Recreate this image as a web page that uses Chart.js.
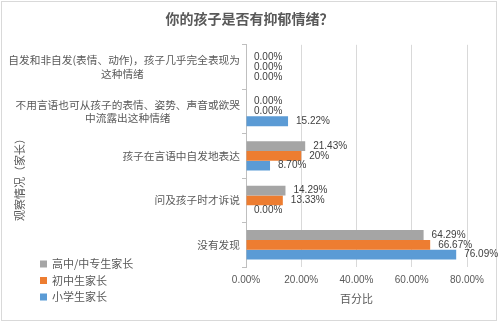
<!DOCTYPE html>
<html>
<head>
<meta charset="utf-8">
<script src="https://cdn.jsdelivr.net/npm/chart.js@4.4.1/dist/chart.umd.min.js"></script>
<style>
    html, body { margin: 0; padding: 0; background: #fff; }
    #wrap { width: 499px; height: 322px; }
</style>
</head>
<body>
<div id="wrap"><canvas id="moodChart" width="499" height="322"></canvas></div>
<script>
// categories (top to bottom); trailing ideographic spaces centre the second line under the first
var categories = [
    ['自发和非自发(表情、动作)，孩子几乎完全表现为', '这种情绪\u3000\u3000\u3000\u3000\u3000\u3000\u3000\u3000\u3000'],
    ['不用言语也可从孩子的表情、姿势、声音或欲哭', '中流露出这种情绪\u3000\u3000\u3000\u3000\u3000\u3000\u2002'],
    '孩子在言语中自发地表达',
    '问及孩子时才诉说',
    '没有发现'
];
var seriesNames = ['高中/中专生家长', '初中生家长', '小学生家长'];
var seniorHighValues = [0, 0, 21.43, 14.29, 64.29];
var juniorHighValues = [0, 0, 20, 13.33, 66.67];
var primaryValues = [0, 15.22, 8.70, 0, 76.09];
var seriesColors = ['#a5a5a5', '#ed7d31', '#5b9bd5'];
var xTicks = [0, 20, 40, 60, 80];

var cjkFont = "'Noto Sans CJK SC', sans-serif";
var numFont = "'Liberation Sans', Arial, sans-serif";
var textColor = '#595959';

function fmtPct(v) {
    if (v !== 0 && Number.isInteger(v)) return v + '%';
    return v.toFixed(2) + '%';
}

// frame, y-axis title and legend
var extrasPlugin = {
    id: 'extras',
    beforeDraw: function(chart) {
        var ctx = chart.ctx;
        ctx.save();
        ctx.fillStyle = '#ffffff';
        ctx.fillRect(0, 0, chart.width, chart.height);
        ctx.strokeStyle = '#d9d9d9';
        ctx.lineWidth = 1;
        ctx.strokeRect(1.5, 1.5, chart.width - 4, chart.height - 3);
        ctx.restore();
    },
    afterDraw: function(chart) {
        var ctx = chart.ctx;
        ctx.save();
        // y-axis title
        ctx.fillStyle = textColor;
        ctx.font = '11px ' + cjkFont;
        ctx.textAlign = 'center';
        ctx.textBaseline = 'middle';
        ctx.translate(20, 177);
        ctx.rotate(-Math.PI / 2);
        ctx.fillText('观察情况（家长）', 0, 0);
        ctx.restore();

        // legend
        ctx.save();
        ctx.font = '11px ' + cjkFont;
        ctx.textAlign = 'left';
        ctx.textBaseline = 'middle';
        for (var i = 0; i < seriesNames.length; i++) {
            var y = 264 + i * 16.5;
            ctx.fillStyle = seriesColors[i];
            ctx.fillRect(40, y - 3.5, 7, 7);
            ctx.fillStyle = textColor;
            ctx.fillText(seriesNames[i], 52, y);
        }
        ctx.restore();
    },
    afterDatasetsDraw: function(chart) {
        var ctx = chart.ctx;
        ctx.save();
        ctx.font = '10px ' + numFont;
        ctx.fillStyle = '#404040';
        ctx.textAlign = 'left';
        ctx.textBaseline = 'middle';
        chart.data.datasets.forEach(function(ds, di) {
            var meta = chart.getDatasetMeta(di);
            meta.data.forEach(function(bar, i) {
                ctx.fillText(fmtPct(ds.data[i]), bar.x + 8, bar.y);
            });
        });
        ctx.restore();
    }
};

var ctxMood = document.getElementById('moodChart').getContext('2d');
var moodChart = new Chart(ctxMood, {
    type: 'bar',
    data: {
        labels: categories,
        datasets: [{
            label: seriesNames[0],
            data: seniorHighValues,
            backgroundColor: seriesColors[0]
        }, {
            label: seriesNames[1],
            data: juniorHighValues,
            backgroundColor: seriesColors[1]
        }, {
            label: seriesNames[2],
            data: primaryValues,
            backgroundColor: seriesColors[2]
        }]
    },
    plugins: [extrasPlugin],
    options: {
        indexAxis: 'y',
        responsive: false,
        animation: false,
        categoryPercentage: 0.66,
        barPercentage: 1.0,
        layout: {
            padding: { top: 0, right: 0, bottom: 0, left: 0 }
        },
        plugins: {
            legend: { display: false },
            tooltip: { enabled: false },
            title: {
                display: true,
                text: '你的孩子是否有抑郁情绪？',
                color: textColor,
                font: { family: cjkFont, size: 14, weight: 'bold' },
                padding: { top: 10, bottom: 18 }
            }
        },
        scales: {
            x: {
                type: 'linear',
                min: 0,
                max: 80,
                afterBuildTicks: function(scale) {
                    scale.ticks = xTicks.map(function(v) { return { value: v }; });
                },
                afterFit: function(scale) { scale.height = 55; },
                ticks: {
                    color: textColor,
                    font: { family: numFont, size: 10 },
                    padding: 7,
                    callback: function(v) { return v.toFixed(2) + '%'; }
                },
                grid: { color: '#d9d9d9', drawTicks: false },
                border: { display: false },
                title: {
                    display: true,
                    text: '百分比',
                    color: textColor,
                    font: { family: cjkFont, size: 11 },
                    padding: { top: 17, bottom: 17 }
                }
            },
            y: {
                type: 'category',
                afterFit: function(scale) { scale.width = 246; },
                ticks: {
                    color: textColor,
                    font: { family: cjkFont, size: 10.7, lineHeight: 1.25 },
                    padding: 2
                },
                grid: { drawOnChartArea: false, offset: true, tickLength: 4, color: '#bfbfbf' },
                border: { color: '#bfbfbf' }
            },
            pad: {
                type: 'category',
                position: 'right',
                afterFit: function(scale) { scale.width = 32; },
                ticks: { display: false },
                grid: { display: false },
                border: { display: false }
            }
        }
    }
});
</script>
</body>
</html>
